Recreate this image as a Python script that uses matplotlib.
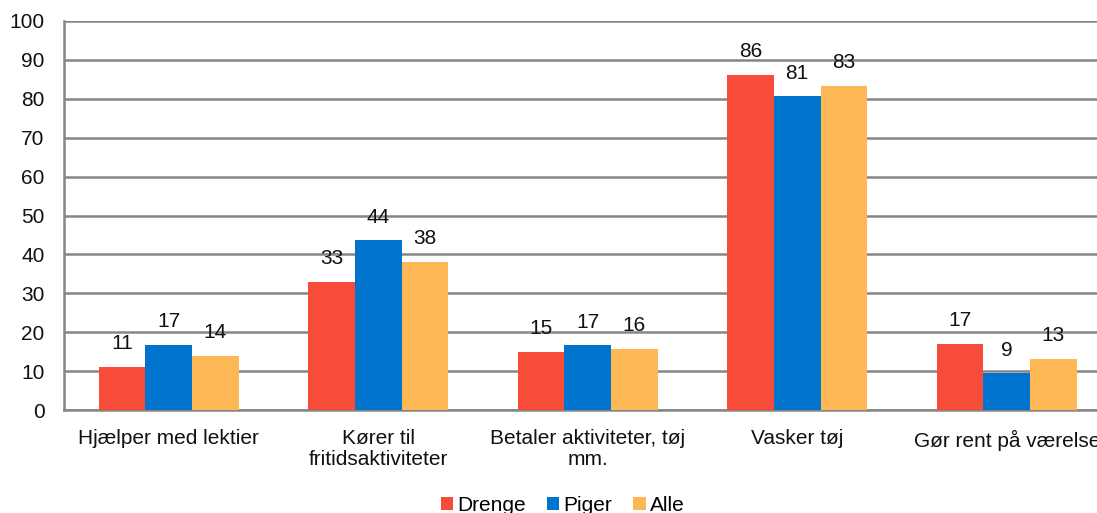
import numpy as np
import matplotlib.pyplot as plt

plt.rcParams["font.family"] = ["Liberation Sans", "DejaVu Sans"]

categories = [
    "Hjælper med lektier",
    "Kører til\nfritidsaktiviteter",
    "Betaler aktiviteter, tøj\nmm.",
    "Vasker tøj",
    "Gør rent på værelse",
]
drenge = [11.1, 32.9, 14.9, 86.1, 16.9]
piger = [16.7, 43.6, 16.6, 80.6, 9.4]
alle = [13.9, 38.1, 15.7, 83.3, 13.1]

series = [("Drenge", drenge, "#F84C3B"), ("Piger", piger, "#0074CC"), ("Alle", alle, "#FDB755")]

fig = plt.figure(figsize=(10.97, 5.13), dpi=100)
ax = fig.add_axes([64 / 1097, 1 - 410 / 513, (1111.5 - 64) / 1097, 389 / 513])

x = np.arange(len(categories))
width = 0.222
for i, (name, vals, color) in enumerate(series):
    pos = x + (i - 1) * width
    bars = ax.bar(pos, vals, width, color=color, label=name, zorder=3)
    for b, v in zip(bars, vals):
        ax.annotate(f"{round(v):d}", (b.get_x() + b.get_width() / 2, v),
                    xytext=(0, 10), textcoords="offset points",
                    ha="center", va="bottom", fontsize=15, color="#111111")

ax.set_xlim(-0.5, len(categories) - 0.5)
ax.set_ylim(0, 100)
ax.set_yticks(range(0, 101, 10))
ax.yaxis.grid(True, color="#868686", linewidth=1.8, zorder=0)
ax.set_xticks(x)
ax.set_xticklabels(categories, fontsize=15, linespacing=1.12)
ax.tick_params(axis="both", length=0, labelsize=15, colors="#111111")
ax.tick_params(axis="x", pad=14)
ax.tick_params(axis="y", pad=14)

for side in ["top", "right"]:
    ax.spines[side].set_visible(False)
for side in ["left", "bottom"]:
    ax.spines[side].set_color("#868686")
    ax.spines[side].set_linewidth(1.8)

fig.legend(loc="center", bbox_to_anchor=(0.513, 0.015), ncol=3, frameon=False,
           fontsize=15, handlelength=0.6, handleheight=0.6, handletextpad=0.2,
           columnspacing=1.0)

fig.savefig("out.png", dpi=100)
